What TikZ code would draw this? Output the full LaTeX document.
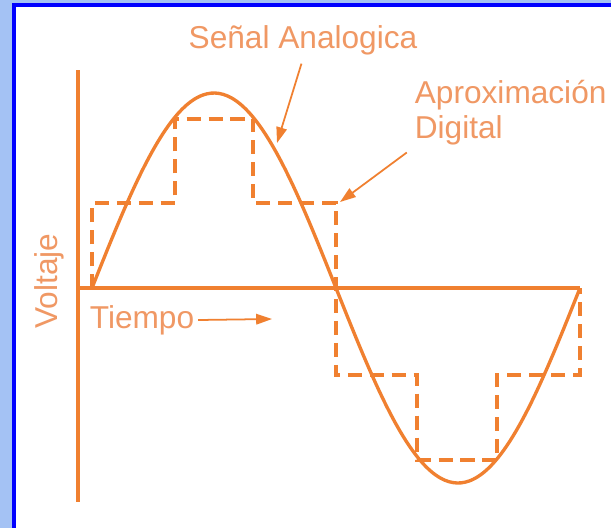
\documentclass[tikz,border=0pt]{standalone}
\usepackage{fontspec}
\setmainfont{Liberation Sans}
\usepackage{xcolor}
\usetikzlibrary{arrows.meta,positioning}

\definecolor{skyback}{RGB}{164,194,244}
\definecolor{frameblue}{RGB}{0,0,255}
\definecolor{wave}{RGB}{240,128,48}
\definecolor{labeltext}{RGB}{240,152,100}

\begin{document}
\begin{tikzpicture}[x=0.02cm,y=-0.02cm,
  signal/.style={wave,line width=1.9pt},
  stairs/.style={wave,line width=1.9pt,dash pattern=on 8pt off 4.5pt},
  axisline/.style={wave,line width=1.8pt},
  pointer/.style={wave,line width=1pt,-{Triangle[length=9pt,width=6pt]}},
  lbl/.style={labeltext,font=\fontsize{18}{20}\selectfont,inner sep=2pt}]
  \useasboundingbox (0,0) rectangle (611,528);
  \fill[skyback] (0,0) rectangle (611,528);
  \fill[frameblue] (12,3) rectangle (611,528);
  \fill[white] (16,7) rectangle (611,528);

  % axes
  \draw[axisline] (78,70) -- (78,502);
  \draw[axisline] (78,288) -- (580,288);

  % analog signal
  \draw[signal] plot[domain=0:360,samples=120,smooth] ({92+\x/360*488},{288-195*sin(\x)});

  % digital approximation
  \draw[stairs] (92,288) -- (92,203) -- (175,203) -- (175,119) -- (253,119)
    -- (253,203) -- (336,203) -- (336,375) -- (417,375) -- (417,460)
    -- (497,460) -- (497,375) -- (580,375) -- (580,288);

  % labels
  \node[lbl] (senal) at (303,40) {Señal Analogica};
  \node[lbl,anchor=west,align=left] (aprox) at (411,113) {Aproximación\\Digital};
  \node[lbl,rotate=90] (voltaje) at (49,281) {Voltaje};
  \node[lbl,anchor=west] (tiempo) at (86,320) {Tiempo};

  \coordinate (senaltip) at (277,143);
  \coordinate (aproxtip) at (340,202);
  \coordinate (tiempotip) at (272,319);

  \draw[pointer,shorten <=3pt] (senal.south) -- (senaltip);
  \draw[pointer,shorten <=3pt] (aprox.south west) -- (aproxtip);
  \draw[pointer] (tiempo.east) -- (tiempotip);
\end{tikzpicture}
\end{document}
